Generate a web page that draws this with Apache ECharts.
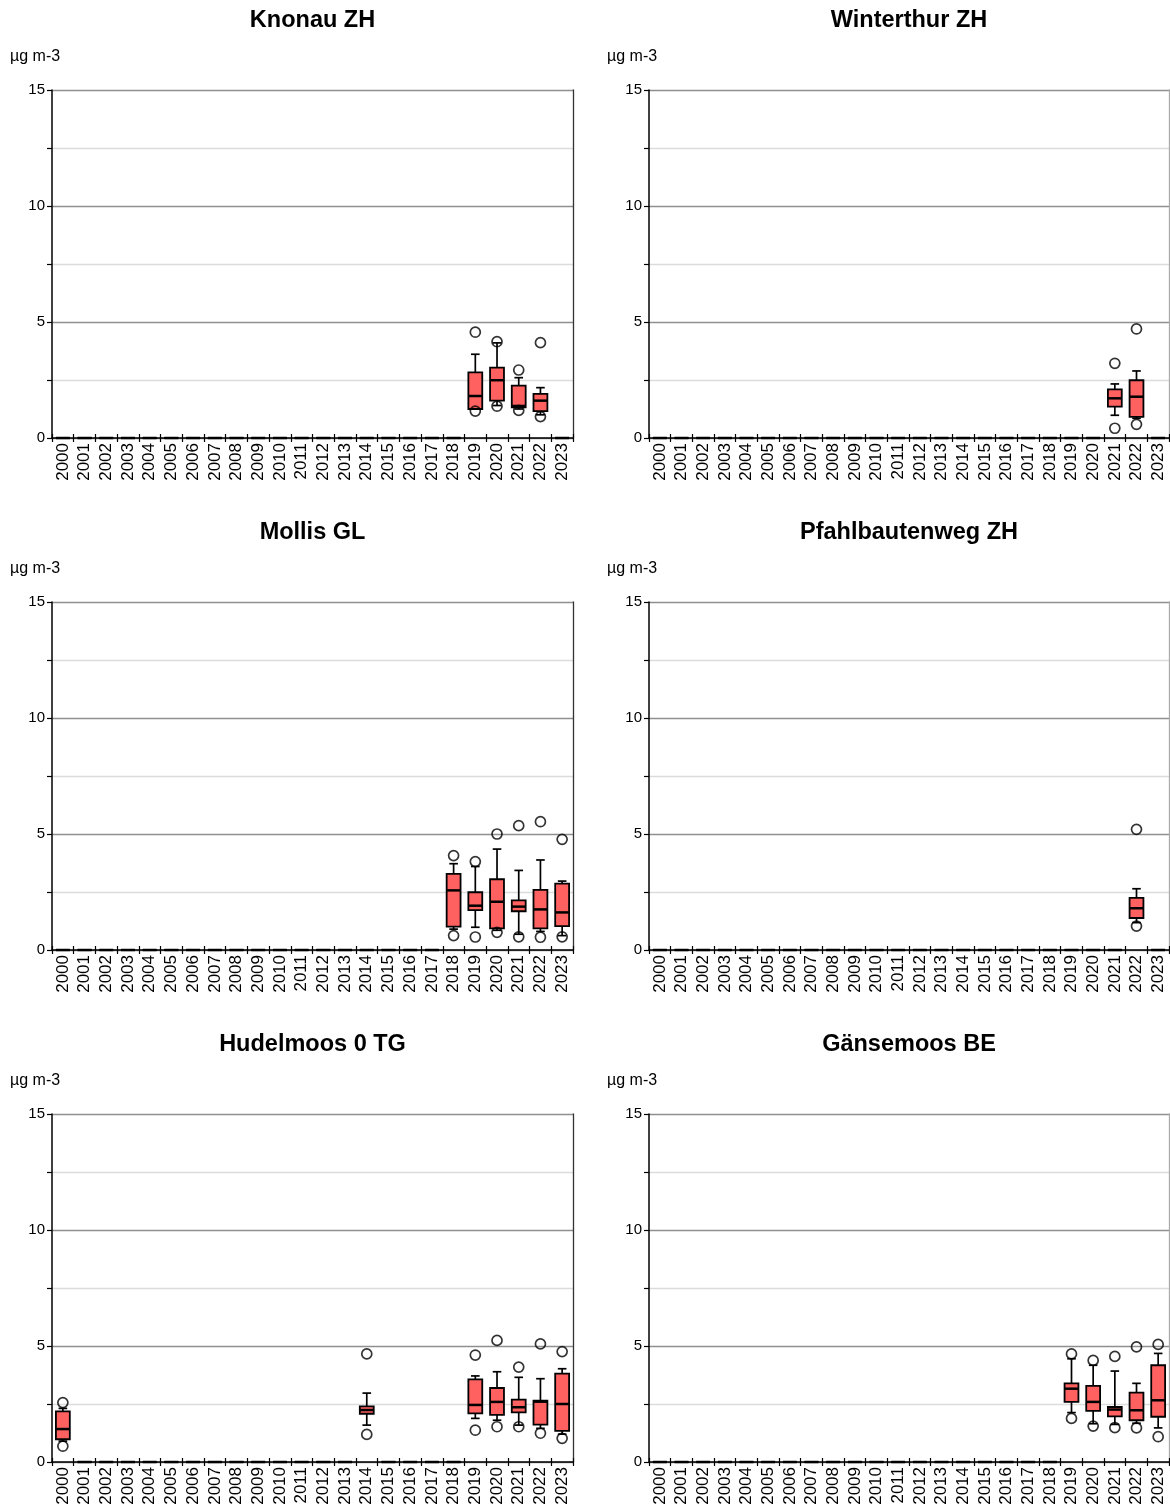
<!DOCTYPE html>
<html>
<head>
<meta charset="utf-8">
<script src="https://cdn.jsdelivr.net/npm/echarts@6/dist/echarts.min.js"></script>
<style>
html,body{margin:0;padding:0;background:#fff;}
#chart{width:1170px;height:1512px;}
</style>
</head>
<body>
<div id="chart"></div>
<script>
// ---------- DATA ----------
const years = ['2000','2001','2002','2003','2004','2005','2006','2007','2008','2009','2010','2011',
               '2012','2013','2014','2015','2016','2017','2018','2019','2020','2021','2022','2023'];
const yTicks = [0, 5, 10, 15];
const unitLabel = 'µg m-3';

const stationNames = ['Knonau ZH','Winterthur ZH','Mollis GL','Pfahlbautenweg ZH','Hudelmoos 0 TG','Gänsemoos BE'];

// data years with boxes: [low whisker, q1, median, q3, high whisker]
const knonauYears = ['2019','2020','2021','2022'];
const knonauStats = [[1.25,1.25,1.81,2.83,3.61],[1.40,1.61,2.49,3.03,4.10],[1.25,1.32,1.38,2.26,2.60],[1.00,1.16,1.61,1.90,2.17]];
const knonauOutliers = [['2019',4.56],['2019',1.16],['2020',4.15],['2020',1.37],['2021',2.93],['2021',1.19],['2022',4.11],['2022',0.92]];

const winterthurYears = ['2021','2022'];
const winterthurStats = [[0.98,1.35,1.71,2.10,2.33],[0.85,0.91,1.78,2.49,2.89]];
const winterthurOutliers = [['2021',3.22],['2021',0.42],['2022',4.70],['2022',0.59]];

const mollisYears = ['2018','2019','2020','2021','2022','2023'];
const mollisStats = [[0.90,1.01,2.57,3.28,3.72],[0.98,1.72,1.91,2.49,3.60],[0.85,0.93,2.08,3.05,4.35],
                     [0.68,1.67,1.87,2.14,3.43],[0.80,0.93,1.75,2.59,3.88],[0.62,1.03,1.62,2.86,2.97]];
const mollisOutliers = [['2018',4.07],['2018',0.62],['2019',3.81],['2019',0.56],['2020',5.00],['2020',0.76],
                        ['2021',5.36],['2021',0.57],['2022',5.53],['2022',0.55],['2023',4.77],['2023',0.57]];

const pfahlYears = ['2022'];
const pfahlStats = [[1.18,1.38,1.80,2.25,2.64]];
const pfahlOutliers = [['2022',5.20],['2022',1.03]];

const hudelYears = ['2000','2014','2019','2020','2021','2022','2023'];
const hudelStats = [[0.90,0.98,1.42,2.18,2.31],[1.59,2.08,2.24,2.40,2.97],[1.88,2.10,2.46,3.56,3.71],
                    [1.80,2.03,2.59,3.19,3.89],[1.59,2.14,2.36,2.69,3.65],[1.45,1.61,2.60,2.64,3.59],[1.20,1.34,2.50,3.81,4.02]];
const hudelOutliers = [['2000',2.56],['2000',0.68],['2014',4.66],['2014',1.19],['2019',4.61],['2019',1.37],
                       ['2020',5.24],['2020',1.52],['2021',4.09],['2021',1.52],['2022',5.09],['2022',1.24],['2023',4.76],['2023',1.02]];

const gaenseYears = ['2019','2020','2021','2022','2023'];
const gaenseStats = [[2.13,2.59,3.16,3.39,4.45],[1.65,2.20,2.59,3.28,4.17],[1.62,1.97,2.26,2.37,3.92],
                     [1.67,1.80,2.23,2.99,3.39],[1.47,1.95,2.66,4.17,4.68]];
const gaenseOutliers = [['2019',4.66],['2019',1.88],['2020',4.38],['2020',1.55],['2021',4.55],['2021',1.48],
                        ['2022',4.96],['2022',1.47],['2023',5.07],['2023',1.09]];

// ---------- BUILD ----------
const stations = [
  [knonauYears, knonauStats, knonauOutliers],
  [winterthurYears, winterthurStats, winterthurOutliers],
  [mollisYears, mollisStats, mollisOutliers],
  [pfahlYears, pfahlStats, pfahlOutliers],
  [hudelYears, hudelStats, hudelOutliers],
  [gaenseYears, gaenseStats, gaenseOutliers]
];

const FONT = '"Liberation Sans", Arial, sans-serif';
const BOX_FILL = '#ff6161';
const lefts = [52, 649];
const widths = [521, 520];
const tops = [90, 602, 1114];
const H = 348;

function renderBox(params, api) {
  const x = api.value(0);
  const pL = api.coord([x, api.value(1)]);
  const p1 = api.coord([x, api.value(2)]);
  const pM = api.coord([x, api.value(3)]);
  const p3 = api.coord([x, api.value(4)]);
  const pH = api.coord([x, api.value(5)]);
  const bw = api.size([1, 0])[0] * 0.64;
  const cw = bw * 0.62;
  const cx = pM[0];
  const ls = {stroke: '#000', lineWidth: 1.7};
  return {
    type: 'group',
    children: [
      {type: 'line', shape: {x1: cx, y1: p3[1], x2: cx, y2: pH[1]}, style: ls},
      {type: 'line', shape: {x1: cx - cw/2, y1: pH[1], x2: cx + cw/2, y2: pH[1]}, style: ls},
      {type: 'line', shape: {x1: cx, y1: p1[1], x2: cx, y2: pL[1]}, style: ls},
      {type: 'line', shape: {x1: cx - cw/2, y1: pL[1], x2: cx + cw/2, y2: pL[1]}, style: ls},
      {type: 'rect', shape: {x: cx - bw/2, y: p3[1], width: bw, height: p1[1] - p3[1]},
       style: {fill: BOX_FILL, stroke: '#000', lineWidth: 1.8}},
      {type: 'line', shape: {x1: cx - bw/2, y1: pM[1], x2: cx + bw/2, y2: pM[1]},
       style: {stroke: '#000', lineWidth: 2.5}}
    ]
  };
}

const grid = [], xAxis = [], yAxis = [], series = [], graphic = [];

stations.forEach(([sYears, sStats, sOut], i) => {
  const col = i % 2, row = Math.floor(i / 2);
  const left = lefts[col], width = widths[col], top = tops[row];
  grid.push({left: left, top: top, width: width, height: H, containLabel: false});

  // main x axis
  xAxis.push({
    type: 'category', gridIndex: i, data: years, boundaryGap: true,
    axisLine: {show: true, lineStyle: {color: '#000', width: 1.5}},
    axisTick: {show: true, interval: 0, length: 4, lineStyle: {color: '#000', width: 1.2}},
    axisLabel: {interval: 0, rotate: 90, fontSize: 17, fontFamily: FONT, color: '#000', margin: 5},
    splitLine: {show: false}
  });
  // overlay axis for inside tick part
  xAxis.push({
    type: 'category', gridIndex: i, data: years, boundaryGap: true, position: 'bottom',
    axisLine: {show: false},
    axisTick: {show: true, inside: true, interval: 0, length: 4, lineStyle: {color: '#000', width: 1.2}},
    axisLabel: {show: false}, splitLine: {show: false}
  });

  yAxis.push({
    type: 'value', gridIndex: i, min: 0, max: 15, interval: 2.5,
    axisLine: {show: true, lineStyle: {color: '#000', width: 1.5}},
    axisTick: {show: true, length: 5, lineStyle: {color: '#000', width: 1.2}},
    axisLabel: {fontSize: 15, fontFamily: FONT, color: '#000', margin: 7,
                formatter: v => yTicks.includes(v) ? String(v) : ''},
    splitLine: {show: true, lineStyle: {color: ['#8f8f8f', '#dcdcdc'], width: 1.3}}
  });
  yAxis.push({
    type: 'value', gridIndex: i, min: 0, max: 15, interval: 2.5, position: 'right',
    axisLine: {show: true, lineStyle: {color: col === 0 ? '#333' : '#aaa', width: 1.3}},
    axisTick: {show: false}, axisLabel: {show: false}, splitLine: {show: false}
  });

  // table: every year; years without a box are drawn as a flat mark on zero
  const table = years.map((y, k) => {
    const j = sYears.indexOf(y);
    const s = j >= 0 ? sStats[j] : [0, 0, 0, 0, 0];
    return [k].concat(s);
  });

  series.push({
    type: 'custom', xAxisIndex: 2*i, yAxisIndex: 2*i,
    renderItem: renderBox, data: table,
    encode: {x: 0, y: [1, 2, 3, 4, 5]}, silent: true, z: 3
  });
  series.push({
    type: 'scatter', xAxisIndex: 2*i, yAxisIndex: 2*i, data: sOut,
    symbol: 'circle', symbolSize: 10,
    itemStyle: {color: 'rgba(0,0,0,0)', borderColor: '#000', borderWidth: 1.7},
    silent: true, z: 4
  });

  graphic.push({
    type: 'text', x: left + width/2, y: top - 69,
    style: {text: stationNames[i], font: 'bold 23.5px ' + FONT, fill: '#000',
            textAlign: 'center', textVerticalAlign: 'middle'}
  });
  graphic.push({
    type: 'text', x: left - 42, y: top - 33,
    style: {text: unitLabel, font: '16px ' + FONT, fill: '#000',
            textAlign: 'left', textVerticalAlign: 'middle'}
  });
});

const chart = echarts.init(document.getElementById('chart'), null, {renderer: 'canvas'});
chart.setOption({
  animation: false,
  backgroundColor: '#fff',
  grid: grid, xAxis: xAxis, yAxis: yAxis, series: series, graphic: graphic
});
</script>
</body>
</html>
